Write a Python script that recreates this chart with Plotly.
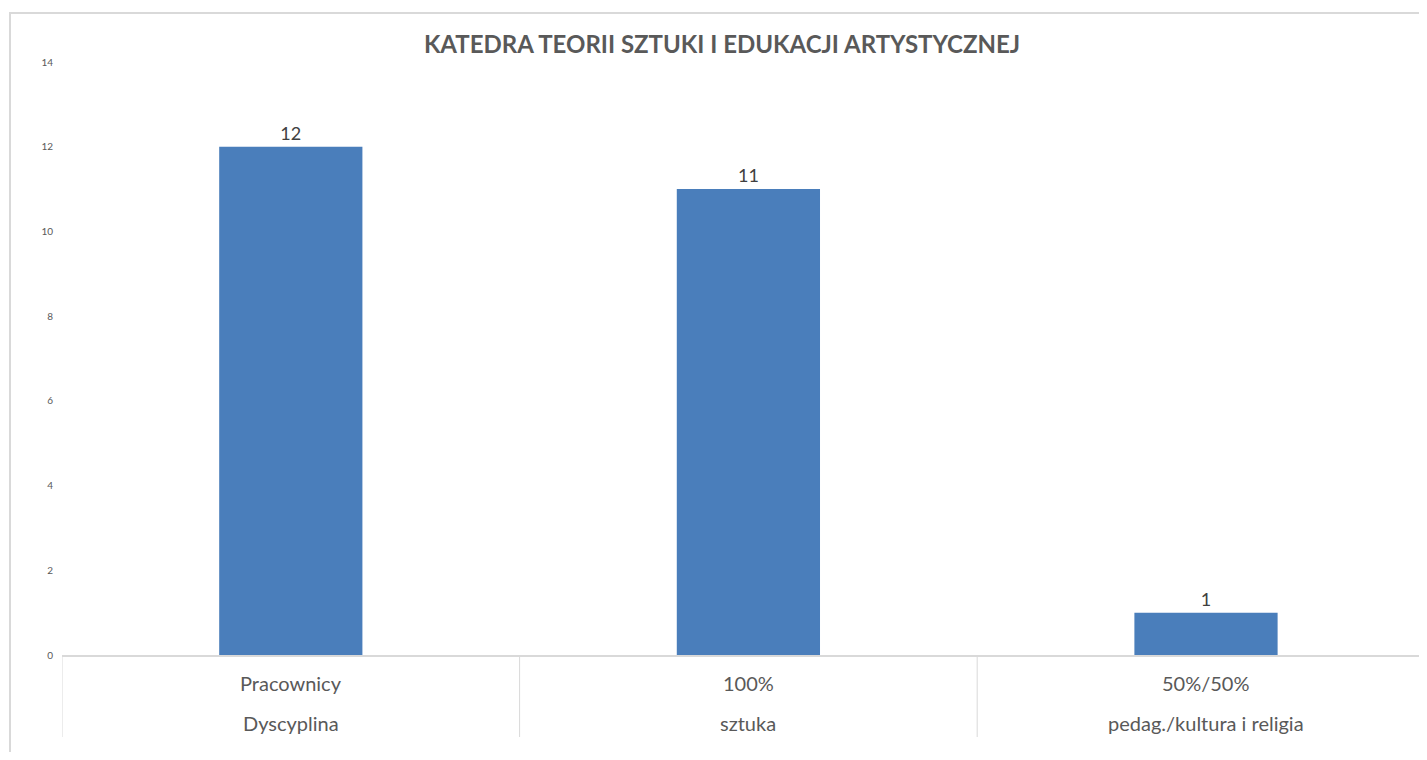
import plotly.graph_objects as go

title = "KATEDRA TEORII SZTUKI I EDUKACJI ARTYSTYCZNEJ"
row1 = ["Pracownicy", "100%", "50%/50%"]
row2 = ["Dyscyplina", "sztuka", "pedag./kultura i religia"]
values = [12, 11, 1]
y_ticks = [0, 2, 4, 6, 8, 10, 12, 14]

FONT = "Lato, Open Sans, sans-serif"
W, H = 1411, 744
L, T, B = 54, 54, 97
plot_h = H - T - B
plot_w = W - L
cat_px = 457.6

fig = go.Figure()
fig.add_trace(go.Bar(
    x=row1, y=values,
    marker=dict(color="#4a7ebb", line=dict(width=0)),
    width=0.313,
    text=[str(v) for v in values], textposition="outside",
    textfont=dict(family=FONT, size=18, color="#404040"),
    cliponaxis=False,
))

annotations = []
for lab1, lab2 in zip(row1, row2):
    annotations.append(dict(x=lab1, y=-28 / plot_h, xref="x", yref="paper", text=lab1,
                            showarrow=False, xanchor="center", yanchor="middle",
                            font=dict(family=FONT, size=20, color="#595959")))
    annotations.append(dict(x=lab1, y=-68 / plot_h, xref="x", yref="paper", text=lab2,
                            showarrow=False, xanchor="center", yanchor="middle",
                            font=dict(family=FONT, size=20, color="#595959")))

shapes = [dict(type="rect", xref="paper", yref="paper", x0=-52 / plot_w, x1=1.05,
               y0=-0.3, y1=(plot_h + T - 5) / plot_h,
               line=dict(color="#d9d9d9", width=2), fillcolor="rgba(0,0,0,0)", layer="below")]
for xd in [-0.5, 0.5, 1.5]:
    shapes.append(dict(type="line", xref="x", yref="paper", x0=xd, x1=xd,
                       y0=0, y1=-82 / plot_h, line=dict(color="#d9d9d9", width=1)))

fig.update_layout(
    width=W, height=H,
    margin=dict(l=L, r=0, t=T, b=B, pad=0),
    paper_bgcolor="white", plot_bgcolor="white",
    showlegend=False,
    title=dict(text="<b>" + title + "</b>", x=(722 - 8) / W, xanchor="center",
               y=1 - 37 / H, yanchor="middle",
               font=dict(family=FONT, size=24, color="#595959")),
    xaxis=dict(type="category", range=[-0.5, -0.5 + plot_w / cat_px], showgrid=False,
               showline=True, linecolor="#d9d9d9", linewidth=1.5,
               showticklabels=False, ticks=""),
    yaxis=dict(range=[0, 14], tickvals=y_ticks, showgrid=False, zeroline=False,
               showline=False, ticks="", ticklabelstandoff=8,
               tickfont=dict(family=FONT, size=10, color="#595959")),
    annotations=annotations,
    shapes=shapes,
)

fig.write_html("out.html")
